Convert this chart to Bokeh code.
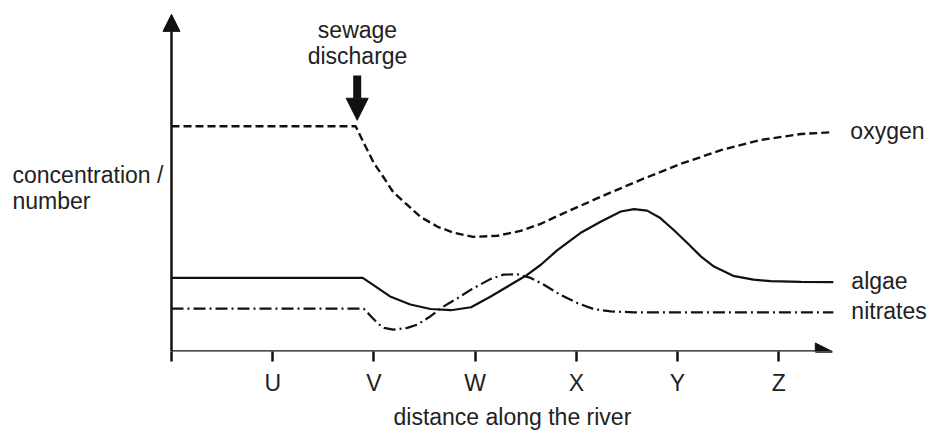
from bokeh.plotting import figure
from bokeh.models import Arrow, NormalHead, FixedTicker, Title, ColumnDataSource
from bokeh.core.properties import value
from bokeh.embed import file_html
from bokeh.resources import INLINE

# ---- data -------------------------------------------------------------
tick_positions = [0, 1, 2, 3, 4, 5, 6]
tick_labels = ["", "U", "V", "W", "X", "Y", "Z"]

oxygen_x = [0.0, 1.82, 1.90, 2.00, 2.10, 2.19, 2.33, 2.46, 2.63, 2.79, 2.98,
            3.22, 3.45, 3.65, 3.84, 4.24, 4.63, 5.03, 5.43, 5.82, 6.22, 6.53]
oxygen_y = [75.3, 75.3, 69.7, 63.0, 58.0, 53.3, 49.0, 45.0, 41.7, 39.7, 38.3,
            38.7, 40.3, 42.7, 45.7, 51.7, 57.3, 62.7, 67.3, 70.7, 72.7, 73.3]

algae_x = [0.0, 1.89, 2.04, 2.16, 2.36, 2.56, 2.76, 2.96, 3.15, 3.35, 3.50,
           3.65, 3.81, 4.04, 4.24, 4.44, 4.57, 4.70, 4.83, 4.96, 5.10, 5.23,
           5.36, 5.55, 5.75, 5.92, 6.22, 6.54]
algae_y = [24.6, 24.6, 21.2, 18.4, 15.7, 14.2, 13.8, 14.8, 18.3, 22.3, 25.3,
           29.0, 33.8, 39.6, 43.4, 46.8, 47.6, 47.1, 44.6, 40.7, 36.2, 31.8,
           28.4, 25.3, 24.0, 23.5, 23.3, 23.2]

nitrates_x = [0.0, 1.90, 1.97, 2.04, 2.10, 2.19, 2.33, 2.43, 2.56, 2.69, 2.83,
              2.96, 3.15, 3.28, 3.42, 3.55, 3.68, 3.84, 4.01, 4.17, 4.34, 4.57, 6.54]
nitrates_y = [14.3, 14.3, 11.8, 9.3, 7.9, 7.3, 7.9, 9.0, 11.8, 15.1, 17.9,
              20.7, 24.2, 25.7, 25.8, 24.6, 22.3, 19.0, 16.2, 14.2, 13.4, 13.1, 13.1]

series_names = ["oxygen", "algae", "nitrates"]
discharge_at = 1.835
y_axis_label_lines = ["concentration /", "number"]
x_axis_label = "distance along the river"
discharge_label_lines = ["sewage", "discharge"]

# ---- styling ------------------------------------------------------------
INK = "#111111"
TXT = "#222222"
FONT = "Liberation Sans"
FS = "23px"

p = figure(width=929, height=432, output_backend="svg", toolbar_location=None,
           x_range=(-1.6897, 7.4901), y_range=(0, 117.333),
           min_border_left=0, min_border_right=0, min_border_top=0,
           min_border_bottom=80)
p.grid.visible = False
p.outline_line_color = None
p.yaxis.visible = False
p.background_fill_color = "white"

xa = p.xaxis[0]
xa.ticker = FixedTicker(ticks=tick_positions)
xa.major_label_overrides = {k: v for k, v in zip(tick_positions, tick_labels)}
xa.axis_line_color = None
xa.major_tick_in = 0
xa.major_tick_out = 10
xa.major_tick_line_width = 2.5
xa.major_tick_line_color = INK
xa.minor_tick_line_color = None
xa.major_label_text_font = FONT
xa.major_label_text_font_size = FS
xa.major_label_text_color = TXT
xa.major_label_standoff = 8

# x axis title, placed under the tick labels
p.add_layout(Title(text=x_axis_label, align="left", offset=393, standoff=6,
                   text_font=FONT, text_font_size=FS, text_color=TXT,
                   text_font_style="normal"), "below")

# axes drawn as arrows
p.add_layout(Arrow(end=NormalHead(size=17, fill_color=INK, line_color=INK),
                   x_start=0, y_start=0, x_end=6.53, y_end=0,
                   line_width=2.5, line_color=INK))
p.add_layout(Arrow(end=NormalHead(size=17, fill_color=INK, line_color=INK),
                   x_start=0, y_start=0, x_end=0, y_end=112.7,
                   line_width=2.5, line_color=INK))

# curves
p.line(oxygen_x, oxygen_y, line_dash="8 4", line_width=2.4, line_color=INK)
p.line(algae_x, algae_y, line_width=2.2, line_color=INK)
p.line(nitrates_x, nitrates_y, line_dash="12 4 2 4", line_width=2.2, line_color=INK)

# series labels at line ends
ends_x = [oxygen_x[-1], algae_x[-1], nitrates_x[-1]]
ends_y = [oxygen_y[-1], algae_y[-1], nitrates_y[-1]]
src = ColumnDataSource(dict(x=ends_x, y=ends_y, t=series_names))
p.text(x="x", y="y", text="t", source=src, x_offset=18, y_offset=-1.5,
       text_font=value(FONT), text_font_size=FS, text_color=TXT,
       text_align="left", text_baseline="alphabetic")

# y axis title (horizontal, two lines)
p.text(x=[-1.571, -1.571], y=[56.67, 48.0], text=y_axis_label_lines,
       y_offset=-7,
       text_font=value(FONT), text_font_size=FS, text_color=TXT,
       text_align="left", text_baseline="alphabetic")

# sewage discharge marker
p.add_layout(Arrow(end=NormalHead(size=22, fill_color=INK, line_color=INK),
                   x_start=discharge_at, y_start=92.3,
                   x_end=discharge_at, y_end=77.3,
                   line_width=8, line_color=INK))
p.text(x=[discharge_at + 0.003, discharge_at + 0.003], y=[105.0, 96.3],
       text=discharge_label_lines, y_offset=-7,
       text_font=value(FONT), text_font_size=FS, text_color=TXT,
       text_align="center", text_baseline="alphabetic")

open("out.html", "w").write(file_html(p, INLINE))
